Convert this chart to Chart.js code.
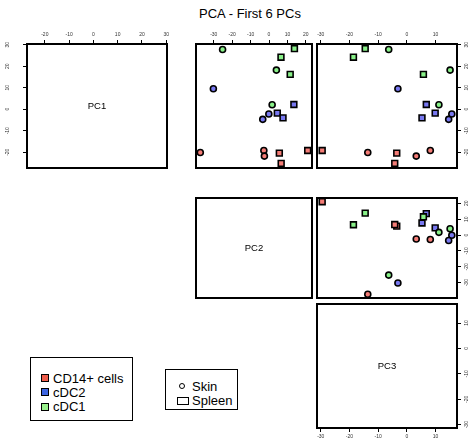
<!DOCTYPE html>
<html lang="en">
<head>
  <meta charset="UTF-8">
  <title>PCA - First 6 PCs</title>
  <script src="https://cdn.jsdelivr.net/npm/chart.js"></script>
  <style>
    body { margin: 0; background: #fff; font-family: "Liberation Sans", Arial, sans-serif; }
    #wrap { position: relative; width: 470px; height: 441px; overflow: hidden; }
    #wrap canvas { position: absolute; }
    .txt { position: absolute; font-size: 13px; line-height: 13px; white-space: nowrap; color: #000; }
    .box { position: absolute; border: 1px solid #000; box-sizing: border-box; }
    .patch { position: absolute; width: 8px; height: 8px; border: 1px solid #000; box-sizing: border-box; }
  </style>
</head>
<body>
  <div id="wrap">
    <div class="txt" style="left:0; width:500px; top:7px; text-align:center;">PCA - First 6 PCs</div>
  </div>

  <script>
    // samples: cell type index, tissue index, and the three PC scores
    const cellTypes = ['CD14+ cells', 'cDC2', 'cDC1'];
    const tissues = ['Skin', 'Spleen'];
    const sampleType   = [0, 0, 0, 0, 0, 0, 1, 1, 1, 1, 1, 1, 2, 2, 2, 2, 2, 2];
    const sampleTissue = [0, 0, 0, 1, 1, 1, 0, 0, 0, 1, 1, 1, 0, 0, 0, 1, 1, 1];
    const pc1 = [-20.1, -19.2, -21.8, -19.2, -20.4, -25.2, 9.5, -2.2, -4.7, 2.2, -1.8, -4.0, 27.8, 18.2, 2.1, 28.2, 24.2, 16.2];
    const pc2 = [-37.3, -2.8, -2.5, 21.0, 5.6, 6.6, -30.2, -0.1, -3.4, 13.5, 4.5, 7.6, -25.2, 4.0, 1.7, 13.8, 6.5, 11.5];
    const pc3 = [-13.6, 8.2, 3.3, -29.5, -3.5, -4.2, -3.1, 15.7, 14.6, 6.8, 9.9, 5.3, -6.3, 15.1, 11.2, -14.5, -18.6, 5.8];
    const pcNames = ['PC1', 'PC2', 'PC3'];
    const ticksPC1 = [-20, -10, 0, 10, 20, 30];
    const ticksPC2 = [-30, -20, -10, 0, 10, 20];
    const ticksPC3 = [-30, -20, -10, 0, 10];

    const pcs = [pc1, pc2, pc3];
    const pcTicks = [ticksPC1, ticksPC2, ticksPC3];
    const typeFill = ['#f47c76', '#7878f0', '#88f088'];
    const legendFill = ['#ee5c4a', '#3c64e0', '#98f08c'];
    const FONT = '"Liberation Sans", Arial, sans-serif';

    const colX = [27, 172, 317];
    const rowY = [44, 174, 304];
    const W = 140, H = 124, M = 24;

    // R-style 4% range extension
    function padRange(v) {
      const lo = Math.min(...v), hi = Math.max(...v), d = (hi - lo) * 0.04;
      return [lo - d, hi + d];
    }

    // box, rotated y tick labels and the diagonal label
    const panelDecor = {
      id: 'panelDecor',
      afterDraw(chart, args, opts) {
        const ctx = chart.ctx, a = chart.chartArea;
        ctx.save();
        ctx.lineWidth = 2;
        ctx.strokeStyle = '#000';
        ctx.strokeRect(a.left, a.top, a.right - a.left, a.bottom - a.top);
        const ys = chart.scales.y;
        if (ys.options.display) {
          ctx.fillStyle = '#333';
          ctx.font = '5px ' + FONT;
          ctx.textAlign = 'center';
          ctx.textBaseline = 'middle';
          const x = ys.position === 'right' ? a.right + 10 : a.left - 19;
          ys.ticks.forEach(t => {
            ctx.save();
            ctx.translate(x, ys.getPixelForValue(t.value));
            ctx.rotate(-Math.PI / 2);
            ctx.fillText(String(t.value), 0, 0);
            ctx.restore();
          });
        }
        if (opts.label) {
          ctx.fillStyle = '#000';
          ctx.font = '9.5px ' + FONT;
          ctx.textAlign = 'center';
          ctx.textBaseline = 'middle';
          ctx.fillText(opts.label, (a.left + a.right) / 2, (a.top + a.bottom) / 2);
        }
        ctx.restore();
      }
    };

    const wrap = document.getElementById('wrap');

    function makePanel(i, j) {
      const canvas = document.createElement('canvas');
      canvas.width = W + 2 * M;
      canvas.height = H + 2 * M;
      canvas.style.left = (colX[j] - M) + 'px';
      canvas.style.top = (rowY[i] - M) + 'px';
      wrap.appendChild(canvas);

      const showTop = i === 0;
      const showBottom = i === 2 && j === 2;
      const showLeft = i === 0 && j === 0;
      const showRight = j === 2;
      const diag = i === j;
      const xr = padRange(pcs[j]);
      const yr = padRange(pcs[i]);

      const points = diag ? [] : pcs[j].map((v, k) => ({ x: v, y: pcs[i][k] }));

      new Chart(canvas.getContext('2d'), {
        type: 'scatter',
        data: {
          datasets: [{
            data: points,
            backgroundColor: sampleType.map(t => typeFill[t]),
            borderColor: '#000',
            borderWidth: 1.6,
            pointStyle: sampleTissue.map(t => t === 0 ? 'circle' : 'rect'),
            pointRadius: sampleTissue.map(t => t === 0 ? 3 : 4.1),
            clip: false
          }]
        },
        options: {
          responsive: false,
          maintainAspectRatio: false,
          animation: false,
          events: [],
          layout: {
            padding: {
              top: showTop ? 0 : M,
              bottom: showBottom ? 0 : M,
              left: showLeft ? 0 : M,
              right: showRight ? 0 : M
            }
          },
          plugins: {
            legend: { display: false },
            tooltip: { enabled: false },
            panelDecor: { label: diag ? pcNames[i] : null }
          },
          scales: {
            x: {
              type: 'linear',
              position: showBottom ? 'bottom' : 'top',
              display: showTop || showBottom,
              min: xr[0],
              max: xr[1],
              afterBuildTicks: s => { s.ticks = pcTicks[j].map(v => ({ value: v })); },
              afterFit: s => { s.height = M; },
              grid: { drawOnChartArea: false, drawTicks: true, tickLength: 4, color: '#000', lineWidth: 1 },
              border: { display: false },
              ticks: { font: { size: 5, family: FONT }, color: '#333', padding: 2, maxRotation: 0, autoSkip: false }
            },
            y: {
              type: 'linear',
              position: showRight ? 'right' : 'left',
              display: showLeft || showRight,
              min: yr[0],
              max: yr[1],
              afterBuildTicks: s => { s.ticks = pcTicks[i].map(v => ({ value: v })); },
              afterFit: s => { s.width = M; },
              grid: { drawOnChartArea: false, drawTicks: true, tickLength: 4, color: '#000', lineWidth: 1 },
              border: { display: false },
              ticks: { display: false }
            }
          }
        },
        plugins: [panelDecor]
      });
    }

    for (let i = 0; i < 3; i++) {
      for (let j = i; j < 3; j++) makePanel(i, j);
    }

    // legends drawn as html
    function addEl(cls, style, text) {
      const d = document.createElement('div');
      d.className = cls;
      Object.assign(d.style, style);
      if (text) d.textContent = text;
      wrap.appendChild(d);
      return d;
    }

    addEl('box', { left: '30px', top: '357px', width: '103px', height: '64px' });
    const typeRowY = [378, 392, 406.5];
    cellTypes.forEach((name, k) => {
      addEl('patch', { left: '41px', top: (typeRowY[k] - 4) + 'px', background: legendFill[k] });
      addEl('txt', { left: '53px', top: (typeRowY[k] - 6.3) + 'px' }, name);
    });

    addEl('box', { left: '165px', top: '369px', width: '73px', height: '41px' });
    addEl('box', { left: '178.5px', top: '383px', width: '6px', height: '6px', borderRadius: '50%' });
    addEl('txt', { left: '192px', top: (386 - 6.3) + 'px' }, tissues[0]);
    addEl('box', { left: '177px', top: '396.5px', width: '12px', height: '8px' });
    addEl('txt', { left: '192px', top: (400 - 6.3) + 'px' }, tissues[1]);
  </script>
</body>
</html>
